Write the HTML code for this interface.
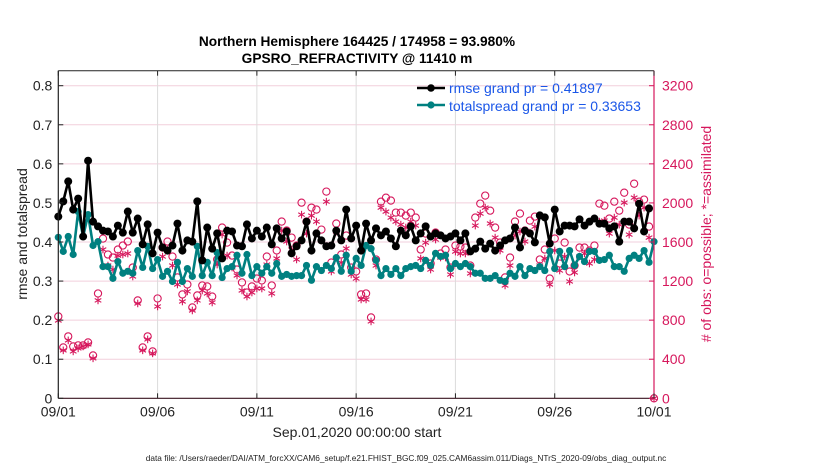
<!DOCTYPE html>
<html><head><meta charset="utf-8">
<style>
html,body{margin:0;padding:0;background:#fff;}
svg{display:block;font-family:"Liberation Sans",Arial,sans-serif;}
</style></head>
<body>
<svg id="chart" width="830" height="470" viewBox="0 0 830 470" xmlns="http://www.w3.org/2000/svg">
<rect x="0" y="0" width="830" height="470" fill="#fff"/>
<g id="grid"></g>
<g id="series"></g>
<g id="axes"></g>
<text x="357" y="46" text-anchor="middle" font-size="13.7" font-weight="bold" fill="#000" font-family="Liberation Sans, sans-serif">Northern Hemisphere 164425 / 174958 = 93.980%</text>
<text x="357" y="63" text-anchor="middle" font-size="13.7" font-weight="bold" fill="#000" font-family="Liberation Sans, sans-serif">GPSRO_REFRACTIVITY @ 11410 m</text>
<text x="0" y="0" transform="translate(27,234) rotate(-90)" text-anchor="middle" font-size="14" fill="#222" font-family="Liberation Sans, sans-serif">rmse and totalspread</text>
<text x="0" y="0" transform="translate(711,234) rotate(-90)" text-anchor="middle" font-size="14" fill="#d6175c" font-family="Liberation Sans, sans-serif"># of obs: o=possible; *=assimilated</text>
<text x="357" y="437" text-anchor="middle" font-size="14" fill="#222" font-family="Liberation Sans, sans-serif">Sep.01,2020 00:00:00 start</text>
<text x="406" y="461" text-anchor="middle" font-size="8.3" fill="#222" font-family="Liberation Sans, sans-serif">data file: /Users/raeder/DAI/ATM_forcXX/CAM6_setup/f.e21.FHIST_BGC.f09_025.CAM6assim.011/Diags_NTrS_2020-09/obs_diag_output.nc</text>
<g font-family="Liberation Sans, sans-serif">
<g>
<line x1="417" y1="88" x2="445" y2="88" stroke="#000" stroke-width="2.6"/><circle cx="431" cy="88" r="3.8" fill="#000"/>
<text x="449" y="93" font-size="14" fill="#1a56e8">rmse grand pr = 0.41897</text></g>
<g>
<line x1="417" y1="105" x2="445" y2="105" stroke="#008080" stroke-width="2.6"/><circle cx="431" cy="105" r="3.6" fill="#008080"/>
<text x="449" y="111" font-size="14" fill="#1a56e8">totalspread grand pr = 0.33653</text></g>
</g>
</svg>
<script>
const xTickLabels = ["09/01","09/06","09/11","09/16","09/21","09/26","10/01"];
const yLeftTicks = [0,0.1,0.2,0.3,0.4,0.5,0.6,0.7,0.8];
const yRightTicks = [0,400,800,1200,1600,2000,2400,2800,3200];
const rmse = [.465,.504,.555,.483,.511,.414,.608,.452,.440,.429,.427,.414,.442,.424,.478,.424,.460,.394,.445,.371,.424,.386,.378,.391,.447,.378,.404,.401,.504,.353,.437,.383,.422,.358,.429,.427,.391,.389,.445,.409,.429,
.414,.437,.394,.435,.409,.427,.371,.389,.404,.452,.378,.422,.404,.389,.391,.429,.404,.483,.409,.442,.378,.447,.404,.435,.417,.427,.409,.389,.429,.417,.440,.404,.422,.440,.414,.422,.417,.409,.414,.422,
.404,.422,.376,.383,.401,.383,.396,.378,.391,.404,.409,.437,.386,.429,.422,.399,.468,.463,.396,.483,.427,.442,.442,.440,.458,.442,.452,.460,.447,.447,.435,.440,.401,.452,.452,.435,.498,.427,.486];
const spread = [.412,.376,.414,.368,.478,.414,.470,.391,.401,.337,.337,.307,.350,.320,.325,.320,.378,.335,.389,.332,.355,.312,.325,.299,.348,.299,.332,.312,.389,.314,.348,.314,.373,.309,.332,.337,.366,.320,.368,.314,.337,
.320,.337,.320,.345,.312,.317,.312,.314,.314,.340,.302,.337,.327,.340,.332,.360,.325,.366,.325,.358,.340,.391,.383,.353,.314,.332,.317,.332,.314,.332,.337,.340,.332,.353,.340,.371,.363,.366,.332,.345,
.337,.345,.337,.320,.320,.307,.307,.314,.302,.299,.320,.312,.337,.314,.332,.327,.337,.327,.376,.332,.376,.337,.378,.340,.363,.350,.376,.376,.353,.355,.366,.337,.337,.325,.358,.366,.358,.378,.348,.401];
const nPossible = [838,521,634,531,542,542,572,439,1073,1635,1472,1441,1523,1564,1605,1339,1002,521,634,480,1022,1543,1605,1451,1237,1063,1165,930,1053,1155,1145,1042,1421,1748,1594,1461,1318,1186,1083,1145,1226,
1206,1451,1155,1513,1809,1717,1645,1564,2003,1809,1952,1932,1727,2116,1390,1789,1472,1666,1339,1298,1063,1073,828,1421,2013,2054,2024,1901,1901,1870,1901,1850,1523,1686,1380,1697,1482,1523,1339,1564,
1553,1543,1359,1850,1993,2075,1921,1748,1594,1237,1441,1809,1891,1717,1819,1860,1421,1523,1226,1635,1380,1594,1298,1359,1543,1543,1513,1564,1993,1972,1840,2013,1921,2105,1778,2197,2013,2034,1758,0];
const nAssim = [797,491,593,480,511,531,552,409,1002,1523,1359,1318,1461,1472,1482,1247,971,491,603,460,940,1451,1523,1359,1165,991,1094,899,1002,1104,1073,981,1369,1676,1461,1339,1257,1104,1042,1083,1124,
1124,1369,1073,1431,1717,1605,1523,1421,1880,1686,1870,1809,1615,2013,1298,1707,1390,1533,1267,1226,1012,1012,787,1359,1952,1911,1850,1809,1778,1748,1809,1768,1431,1594,1318,1625,1441,1441,1267,1502,
1482,1482,1278,1768,1891,1952,1789,1645,1513,1155,1359,1666,1707,1605,1697,1758,1359,1431,1165,1513,1308,1451,1196,1288,1451,1482,1380,1421,1809,1819,1686,1850,1778,2003,1676,2054,1870,1952,1645,0];

const NS='http://www.w3.org/2000/svg';
const X0=58.3, X1=654, Y0=398.3, Ytop=70.7;
const pxPerUnit=(Y0-85.7)/0.8;
const xScale = i => X0 + i*(X1-X0)/120;
const yL = v => Y0 - v*pxPerUnit;
const yR = c => Y0 - (c/4000)*pxPerUnit;
const CR='#d6175c';
function mk(tag, attrs, parent){const e=document.createElementNS(NS,tag);for(const k in attrs)e.setAttribute(k,attrs[k]);parent.appendChild(e);return e;}
const grid=document.getElementById('grid'), ser=document.getElementById('series'), ax=document.getElementById('axes');

yLeftTicks.forEach(v=>{ if(v>0){const l=mk('line',{x1:X0,x2:X1,y1:yL(v),y2:yL(v),stroke:'#f2cfdc','stroke-width':1},grid);

}});
xTickLabels.forEach((t,k)=>{const x=xScale(k*20); if(k>0&&k<6){const l=mk('line',{x1:x,x2:x,y1:Ytop,y2:Y0,stroke:'#dcdcdc','stroke-width':1},grid);

}});

function asterisk(x,y,parent){const g=mk('g',{stroke:CR,'stroke-width':1.1},parent);
for(let a=0;a<3;a++){const ang=Math.PI/2+a*Math.PI/3;const dx=3.8*Math.cos(ang),dy=3.8*Math.sin(ang);mk('line',{x1:x-dx,y1:y-dy,x2:x+dx,y2:y+dy},g);}
return g;}
nPossible.forEach((c,i)=>{const m=mk('circle',{cx:xScale(i),cy:yR(c),r:3.6,fill:'none',stroke:CR,'stroke-width':1.1},ser);

});
nAssim.forEach((c,i)=>{const m=asterisk(xScale(i),yR(c),ser);

});

function line(vals,color,name,r){
const p=mk('polyline',{points:vals.map((v,i)=>xScale(i)+','+yL(v)).join(' '),fill:'none',stroke:color,'stroke-width':2.6,'stroke-linejoin':'round'},ser);


vals.forEach((v,i)=>{const c=mk('circle',{cx:xScale(i),cy:yL(v),r:r,fill:color},ser);

});}
line(spread,'#008080','totalspread',3.6);
line(rmse,'#000','rmse',4);

mk('line',{x1:X0,x2:X1,y1:Ytop,y2:Ytop,stroke:'#222','stroke-width':1},ax);
const la=mk('line',{x1:X0,x2:X0,y1:Ytop,y2:Y0,stroke:'#222','stroke-width':1.2},ax);


const ba=mk('line',{x1:X0,x2:X1,y1:Y0,y2:Y0,stroke:'#3a1520','stroke-width':1.2},ax);


const ra=mk('line',{x1:X1,x2:X1,y1:Ytop,y2:Y0,stroke:CR,'stroke-width':1.2},ax);



yLeftTicks.forEach(v=>{const y=yL(v);mk('line',{x1:X0,x2:X0+5,y1:y,y2:y,stroke:'#222'},ax);
const t=mk('text',{x:X0-6,y:y+5,'text-anchor':'end','font-size':14,fill:'#222'},ax);t.textContent=(v===0?'0':v.toFixed(1));

});
yRightTicks.forEach(c=>{const y=yR(c);mk('line',{x1:X1-5,x2:X1,y1:y,y2:y,stroke:CR},ax);
const t=mk('text',{x:X1+8,y:y+5,'font-size':14,fill:CR},ax);t.textContent=String(c);

});
xTickLabels.forEach((lab,k)=>{const x=xScale(k*20);
mk('line',{x1:x,x2:x,y1:Y0,y2:Y0-5,stroke:'#222'},ax);mk('line',{x1:x,x2:x,y1:Ytop,y2:Ytop+5,stroke:'#222'},ax);
const t=mk('text',{x:x,y:Y0+18,'text-anchor':'middle','font-size':14,fill:'#222'},ax);t.textContent=lab;

});
</script>
</body></html>
